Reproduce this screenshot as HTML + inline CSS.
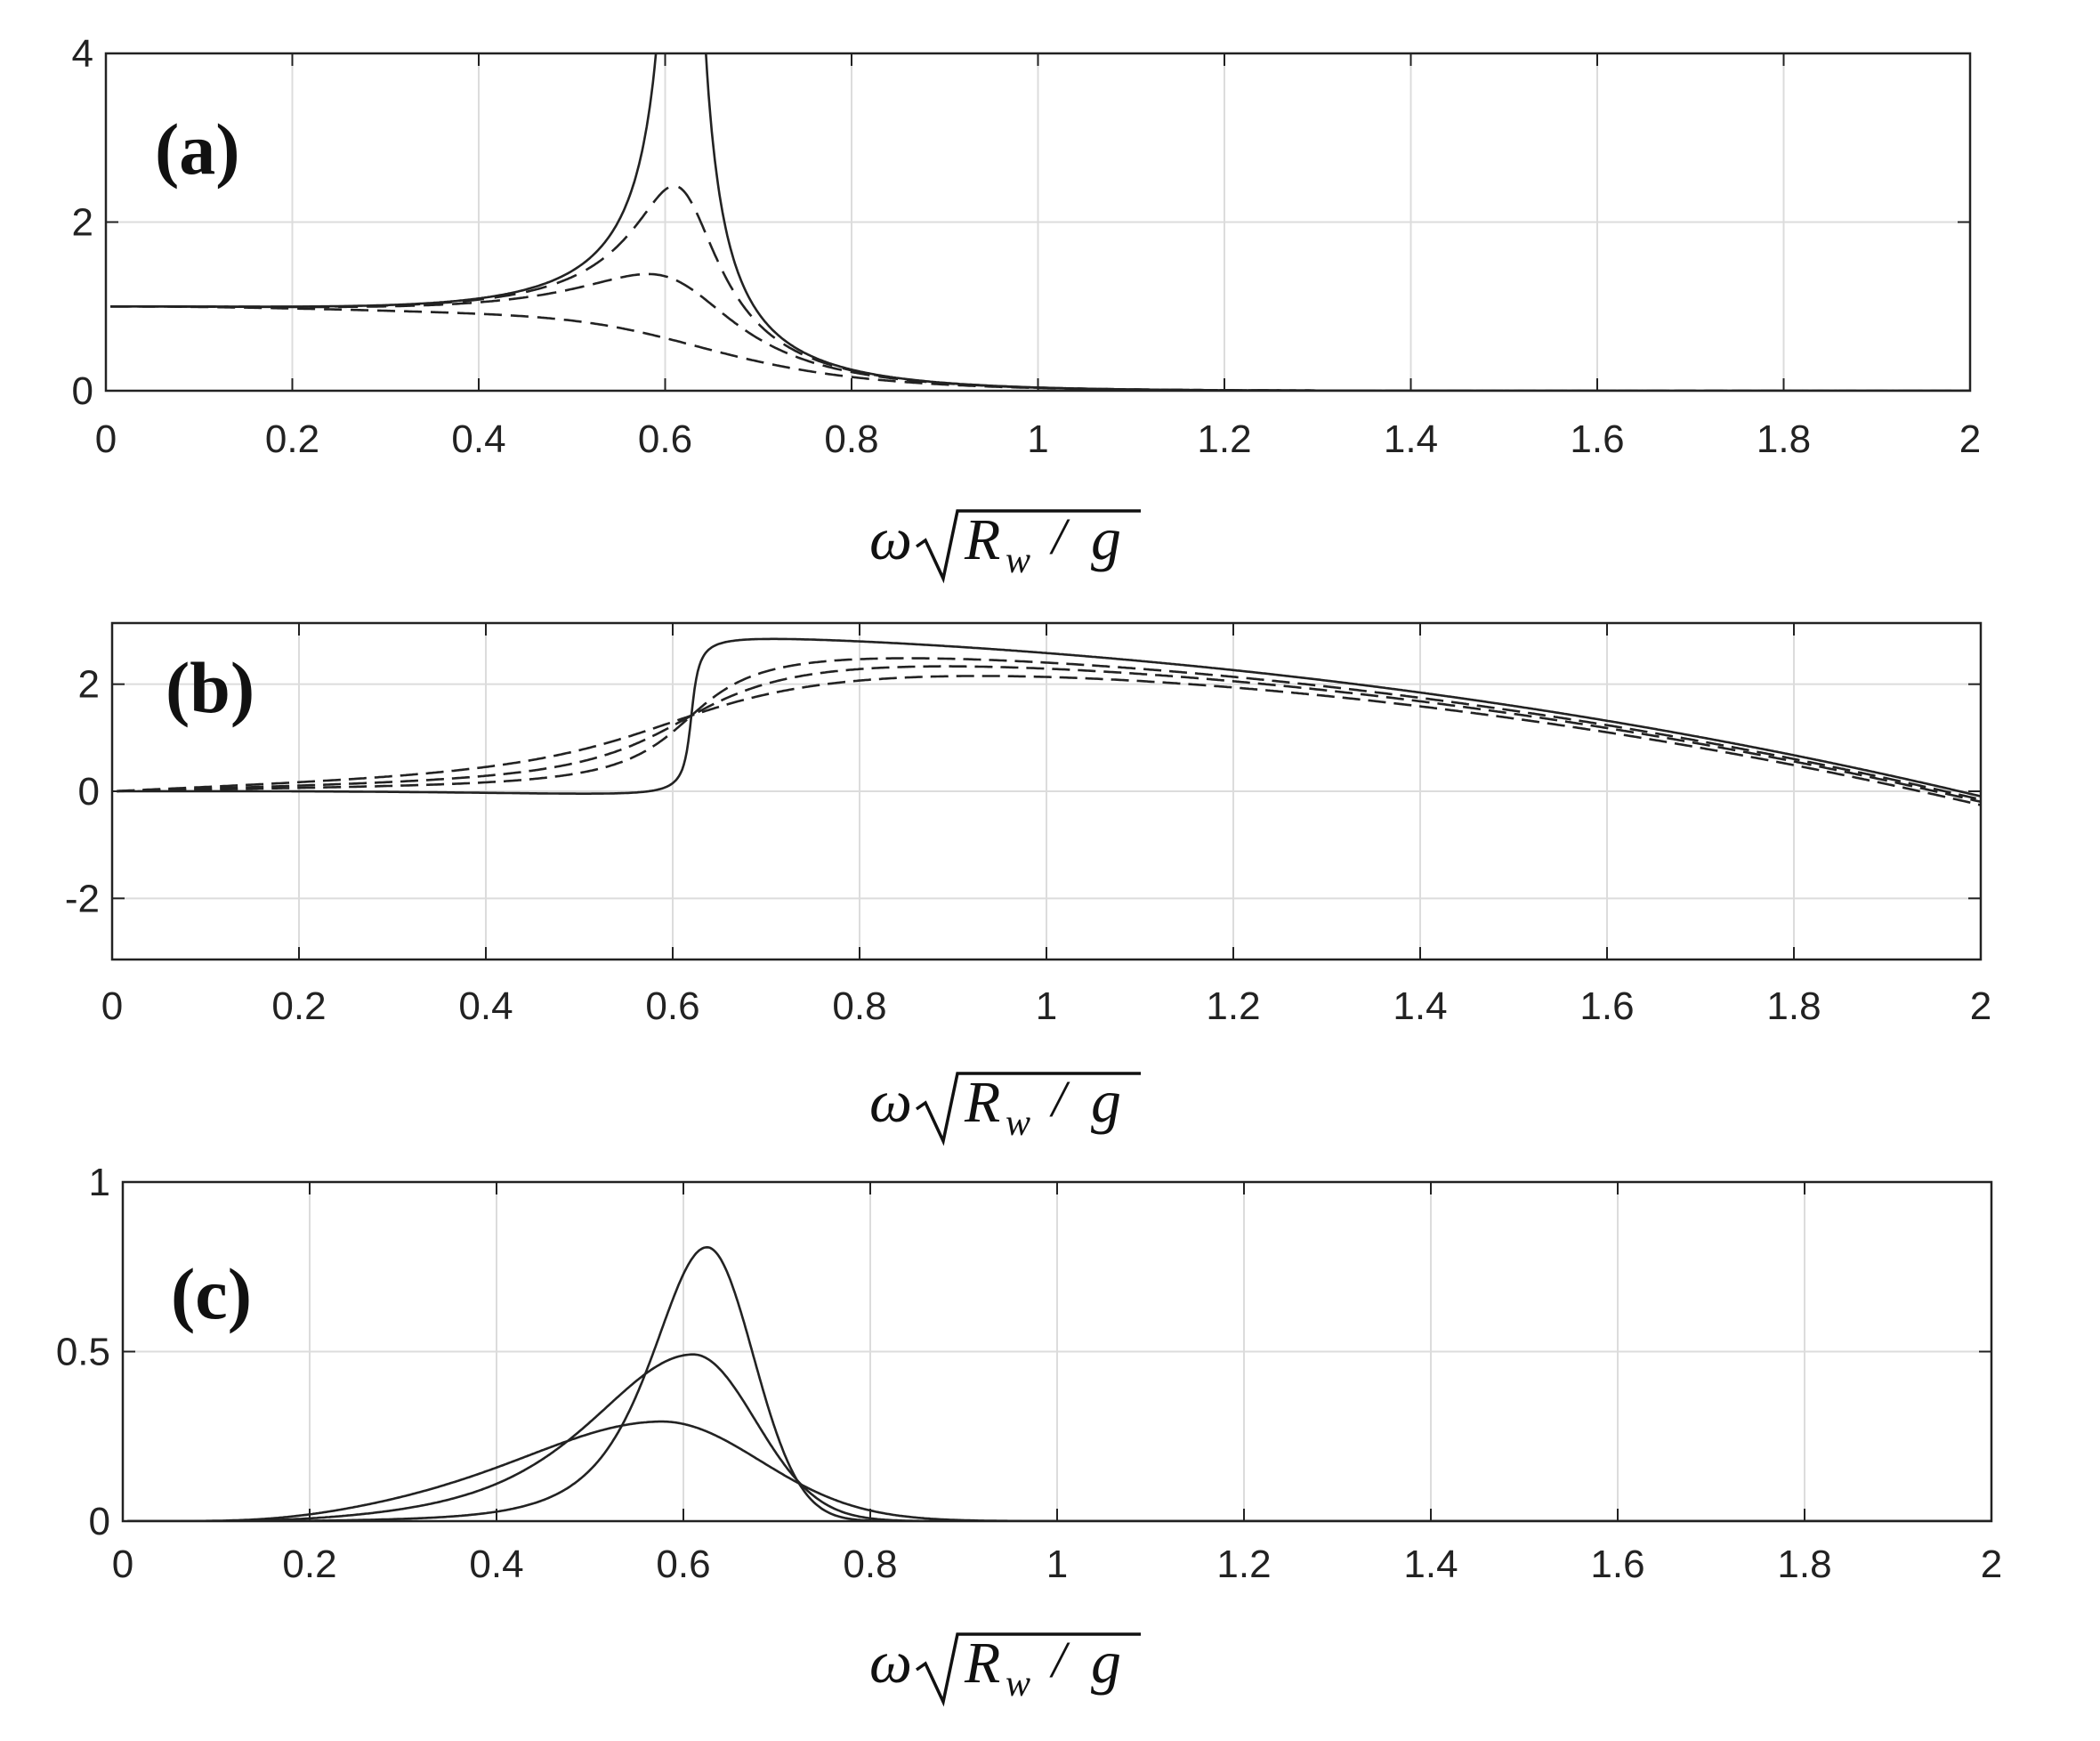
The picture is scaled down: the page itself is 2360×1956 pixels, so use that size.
<!DOCTYPE html>
<html><head><meta charset="utf-8"><style>
html,body{margin:0;padding:0;background:#fff}
svg{display:block}
.tk{font-family:"Liberation Sans",Arial,sans-serif;font-size:44px;fill:#222}
.pl{font-family:"Liberation Serif","Times New Roman",serif;font-size:82px;font-weight:bold;fill:#111}
.ax{font-family:"Liberation Serif","Times New Roman",serif;font-style:italic;fill:#111}
</style></head><body>
<svg id="s" width="2360" height="1956" viewBox="0 0 2360 1956" xmlns="http://www.w3.org/2000/svg"></svg>
<script>
var S=document.getElementById('s'),NS='http://www.w3.org/2000/svg';
function el(t,a,txt){var e=document.createElementNS(NS,t);for(var k in a)e.setAttribute(k,a[k]);if(txt!=null)e.textContent=txt;S.appendChild(e);return e;}
function panel(L,R,T,B,ymin,ymax,yt,ytl,lab,labx,laby,xly,fns,dashes,o){
  var X=function(w){return L+(R-L)*w/2},Y=function(v){return B-(B-T)*(v-ymin)/(ymax-ymin)};
  for(var i=1;i<10;i++){var x=X(i*0.2);el('line',{x1:x,y1:T,x2:x,y2:B,stroke:'#dcdcdc','stroke-width':2});}
  yt.forEach(function(v){var y=Y(v);if(y>T+2&&y<B-2)el('line',{x1:L,y1:y,x2:R,y2:y,stroke:'#dcdcdc','stroke-width':2});});
  var id='c'+lab;var cp=el('clipPath',{id:id});var r=document.createElementNS(NS,'rect');r.setAttribute('x',L);r.setAttribute('y',T);r.setAttribute('width',R-L);r.setAttribute('height',B-T);cp.appendChild(r);
  fns.forEach(function(f,j){var d='';for(var i=0;i<=1200;i++){var w=0.005+i*(1.995/1200);var v=f(w);var y=Y(v);if(y<T-50)y=T-50;if(y>B+50)y=B+50;d+=(i?'L':'M')+X(w).toFixed(1)+','+y.toFixed(1);}
    var a={d:d,fill:'none',stroke:'#222','stroke-width':2.6,'clip-path':'url(#'+id+')'};if(dashes[j])a['stroke-dasharray']=dashes[j];el('path',a);});
  el('rect',{x:L,y:T,width:R-L,height:B-T,fill:'none',stroke:'#222','stroke-width':2.5});
  for(var i=0;i<=10;i++){var x=X(i*0.2);el('line',{x1:x,y1:T,x2:x,y2:T+14,stroke:'#222','stroke-width':2});el('line',{x1:x,y1:B,x2:x,y2:B-14,stroke:'#222','stroke-width':2});
    var s=(i%5==0)?String(i/5):(i*0.2>1?(i*0.2).toFixed(1):'0.'+(2*i%10));el('text',{x:x,y:xly,'text-anchor':'middle','class':'tk'},s);}
  yt.forEach(function(v,k){var y=Y(v);el('line',{x1:L,y1:y,x2:L+14,y2:y,stroke:'#222','stroke-width':2});el('line',{x1:R,y1:y,x2:R-14,y2:y,stroke:'#222','stroke-width':2});
    el('text',{x:L-14,y:y+15,'text-anchor':'end','class':'tk'},ytl[k]);});
  el('text',{x:labx,y:laby,'class':'pl'},'('+lab+')');
  el('text',{x:977,y:630+o,'class':'ax','font-size':68},'ω');
  el('path',{d:'M1030,'+(616+o)+' L1040,'+(609+o)+' L1060,'+(652+o)+' L1076,'+(576+o)+' L1282,'+(576+o),fill:'none',stroke:'#111','stroke-width':3.5});
  el('text',{x:1084,y:630+o,'class':'ax','font-size':66},'R');
  el('text',{x:1130,y:645+o,'class':'ax','font-size':42},'w');
  el('text',{x:1182,y:624+o,'class':'ax','font-size':58},'/');
  el('text',{x:1226,y:630+o,'class':'ax','font-size':68},'g');
}
var w0=0.62;
function amp(z){return function(w){var r=w/w0;return Math.exp(-2.8*w*w)/Math.sqrt(Math.pow(1-r*r,2)+Math.pow(2*z*r,2));};}
function ph(z){return function(w){var r=w/w0;return Math.atan2(2*z*r,1-r*r)-0.54*Math.pow(w,2.58);};}
function pk(p,a,hl,hr){return function(w){var v;if(w<p){var x=(w-p)/hl;v=Math.pow(1+x*x,-2);}else{var x=(w-p)/hr;v=Math.exp(-x*x);}return a*v/(1+Math.pow(0.22/w,4));};}
panel(119,2214,60,439,0,4,[0,2,4],['0','2','4'],'a',174,195,508,[amp(0.004),amp(0.072),amp(0.135),amp(0.3)],[null,'24,12','22,10','20,10'],-2);
panel(126,2226,700,1078,-Math.PI,Math.PI,[-2,0,2],['-2','0','2'],'b',186,800,1145,[ph(0.01),ph(0.1),ph(0.16),ph(0.25)],[null,'20,9','20,9','20,9'],630);
panel(138,2238,1328,1709,0,1,[0,0.5,1],['0','0.5','1'],'c',192,1481,1772,[pk(0.625,0.82,0.11,0.07),pk(0.61,0.5,0.206,0.094),pk(0.575,0.3,0.31,0.15)],[null,null,null],1260);
</script>
</body></html>
